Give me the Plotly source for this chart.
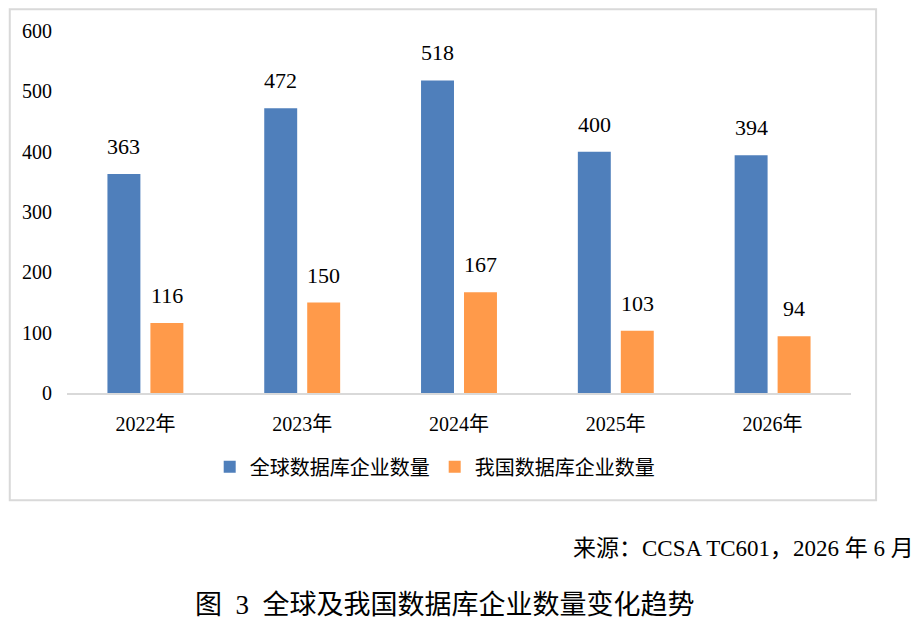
import plotly.graph_objects as go

# Données du graphique
years = ["2022年", "2023年", "2024年", "2025年", "2026年"]
global_counts = [363, 472, 518, 400, 394]
china_counts = [116, 150, 167, 103, 94]
series_names = ["全球数据库企业数量", "我国数据库企业数量"]
source_text = "来源：CCSA TC601，2026 年 6 月"
title_text = "图  3  全球及我国数据库企业数量变化趋势"

BLUE = "#4F7FBB"
ORANGE = "#FF9A4A"
FONT = "Liberation Serif, Noto Sans CJK SC, serif"

fig = go.Figure()
fig.add_trace(go.Bar(x=years, y=global_counts, name=series_names[0],
                     marker=dict(color=BLUE, line=dict(width=0))))
fig.add_trace(go.Bar(x=years, y=china_counts, name=series_names[1],
                     marker=dict(color=ORANGE, line=dict(width=0))))

# Étiquettes de valeurs au-dessus des barres
for yr, g, c in zip(years, global_counts, china_counts):
    fig.add_annotation(x=yr, y=g, text=str(g), xshift=-21.5, yshift=13,
                       yanchor="bottom", showarrow=False,
                       font=dict(size=22, color="black", family=FONT))
    fig.add_annotation(x=yr, y=c, text=str(c), xshift=21.5, yshift=13,
                       yanchor="bottom", showarrow=False,
                       font=dict(size=22, color="black", family=FONT))

# Source et titre de la figure
fig.add_annotation(xref="paper", yref="paper", x=1.083, y=-0.43, text=source_text,
                   xanchor="right", yanchor="middle", showarrow=False,
                   font=dict(size=23, color="black", family=FONT))
fig.add_annotation(xref="paper", yref="paper", x=0.482, y=-0.585, text=title_text,
                   xanchor="center", yanchor="middle", showarrow=False,
                   font=dict(size=27, color="black", family=FONT))

# Cadre du graphique
fig.add_shape(type="rect", xref="paper", yref="paper",
              x0=-0.073, x1=1.032, y0=-0.296, y1=1.06,
              line=dict(color="#D9D9D9", width=2), fillcolor="rgba(0,0,0,0)", layer="below")

fig.update_xaxes(showline=True, linecolor="#D9D9D9", linewidth=2,
                 showgrid=False, zeroline=False, ticks="", ticklabelstandoff=12,
                 tickfont=dict(size=20, color="black", family=FONT))
fig.update_yaxes(range=[0, 600], dtick=100, showgrid=False, zeroline=False,
                 showline=False, ticks="", ticklabelstandoff=14,
                 tickfont=dict(size=20, color="black", family=FONT))

# La page ajoute une marge de 8 px autour du graphique : on la compense ici
fig.update_layout(
    barmode="group",
    bargap=0.452,
    bargroupgap=0.233,
    width=921,
    height=626,
    margin=dict(l=59, r=78, t=23, b=241, autoexpand=False),
    plot_bgcolor="white",
    paper_bgcolor="white",
    font=dict(family=FONT, color="black"),
    showlegend=True,
    legend=dict(orientation="h", x=0.469, xanchor="center", y=-0.204, yanchor="middle",
                font=dict(size=20, color="black", family=FONT),
                itemwidth=30, traceorder="normal"),
)

fig.write_html("out.html")
